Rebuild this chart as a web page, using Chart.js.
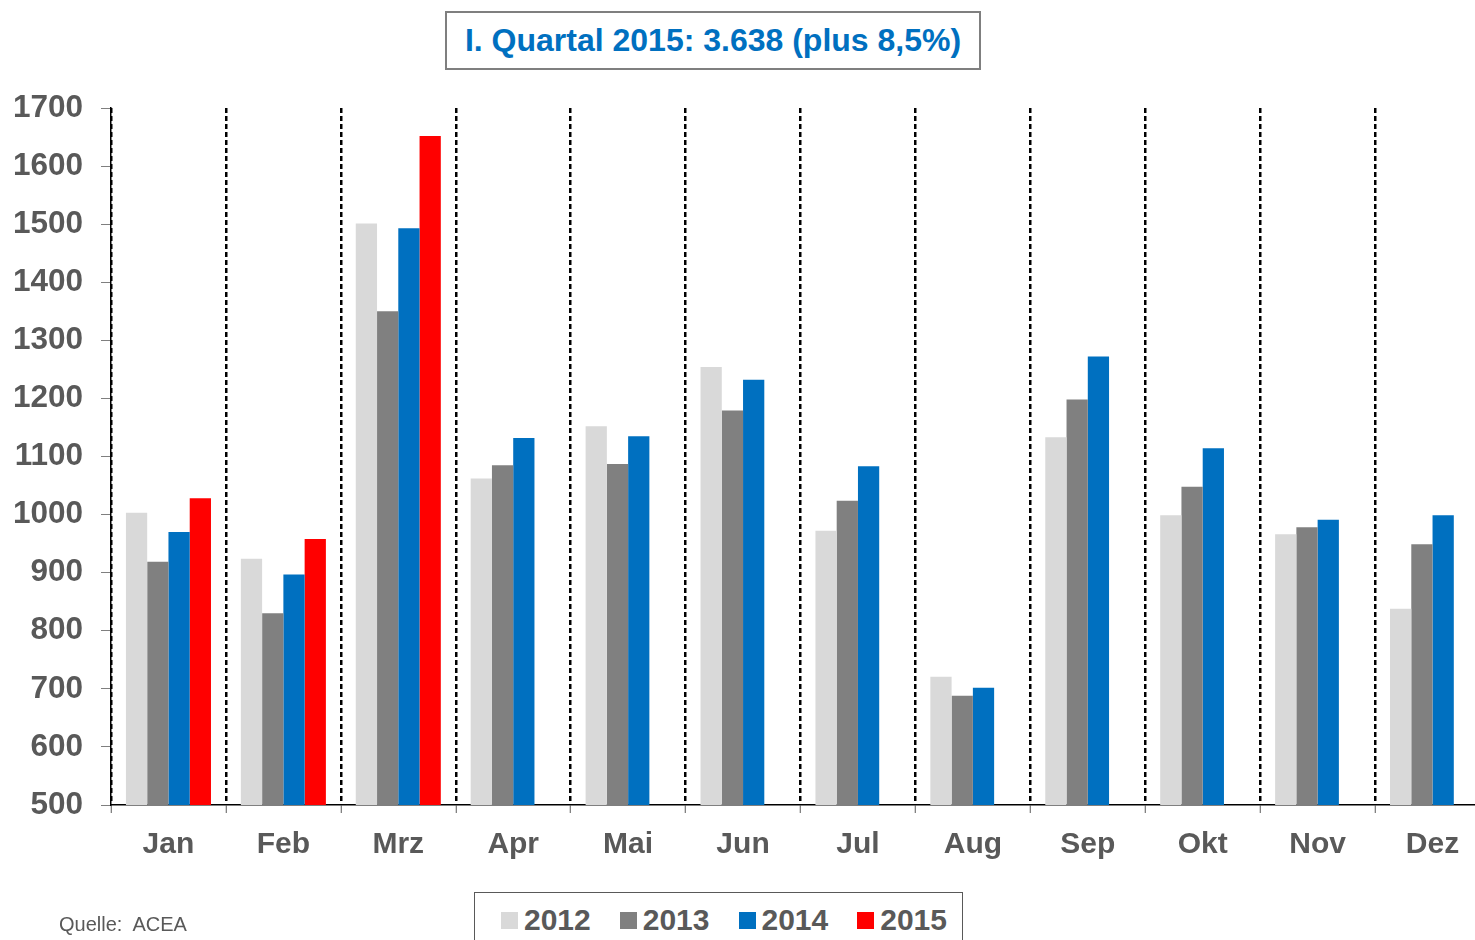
<!DOCTYPE html>
<html>
<head>
<meta charset="utf-8">
<script src="https://cdn.jsdelivr.net/npm/chart.js@4/dist/chart.umd.min.js"></script>
<style>
    html, body { margin: 0; padding: 0; background: #fff; overflow: hidden; }
    body { width: 1475px; height: 940px; position: relative; font-family: "Liberation Sans", Arial, sans-serif; }
    #wrap { position: absolute; left: 0; top: 0; width: 1475px; height: 940px; overflow: hidden; }
    #title {
        position: absolute; left: 445px; top: 11px; width: 532px; height: 55px;
        border: 2px solid #7f7f7f; color: #0070C0; font-weight: bold; font-size: 32px;
        display: flex; align-items: center; justify-content: center; background: #fff;
    }
    #legend {
        position: absolute; left: 474px; top: 892px; width: 489px; height: 70px;
        border: 1px solid #595959; box-sizing: border-box; background: #fff;
        display: flex; align-items: flex-start; padding: 10px 0 0 26px;
    }
    .item { display: flex; align-items: center; margin-right: 29px; font-weight: bold; font-size: 30px; color: #595959; }
    .box { width: 17px; height: 17px; margin-right: 6px; }
    #source { position: absolute; left: 59px; top: 913px; font-size: 20px; color: #595959; }
</style>
</head>
<body>
<div id="wrap"><canvas id="chart" width="1490" height="940"></canvas></div>
<div id="title">I. Quartal 2015: 3.638 (plus 8,5%)</div>
<div id="legend"></div>
<div id="source">Quelle:&nbsp; ACEA</div>
<script>
    const months = ['Jan', 'Feb', 'Mrz', 'Apr', 'Mai', 'Jun', 'Jul', 'Aug', 'Sep', 'Okt', 'Nov', 'Dez'];
    const years = ['2012', '2013', '2014', '2015'];
    const sales2012 = [1003, 924, 1501, 1062, 1152, 1254, 972, 721, 1133, 999, 966, 838];
    const sales2013 = [919, 830, 1350, 1085, 1087, 1179, 1024, 688, 1198, 1048, 978, 949];
    const sales2014 = [970, 897, 1493, 1132, 1135, 1232, 1083, 702, 1272, 1114, 991, 999];
    const sales2015 = [1028, 958, 1652, null, null, null, null, null, null, null, null, null];
    const colors = ['#D9D9D9', '#808080', '#0070C0', '#FF0000'];

    const series = [sales2012, sales2013, sales2014, sales2015];
    const font = '"Liberation Sans", Arial, sans-serif';

    // Legend built from the same series info
    const legendEl = document.getElementById('legend');
    years.forEach((year, i) => {
        const item = document.createElement('div');
        item.className = 'item';
        item.innerHTML = `<span class="box" style="background:${colors[i]}"></span><span>${year}</span>`;
        legendEl.appendChild(item);
    });

    const ctx = document.getElementById('chart').getContext('2d');
    new Chart(ctx, {
        type: 'bar',
        data: {
            labels: months,
            datasets: years.map((year, i) => ({
                label: year,
                data: series[i],
                backgroundColor: colors[i],
                borderWidth: 0,
                categoryPercentage: 0.74,
                barPercentage: 1.0
            }))
        },
        options: {
            responsive: false,
            animation: false,
            layout: { padding: { top: 108, left: 0, right: 0, bottom: 0 } },
            plugins: {
                legend: { display: false },
                tooltip: { enabled: false }
            },
            scales: {
                x: {
                    afterFit: (scale) => { scale.height = 135; },
                    grid: {
                        offset: true,
                        color: '#000',
                        lineWidth: 2.5,
                        drawTicks: true,
                        tickLength: 8,
                        tickColor: '#595959',
                        tickWidth: 1
                    },
                    border: { color: '#000', width: 1.5, dash: [5, 3] },
                    ticks: {
                        color: '#595959',
                        font: { family: font, size: 30, weight: 'bold' },
                        padding: 14
                    }
                },
                y: {
                    min: 500,
                    max: 1700,
                    afterFit: (scale) => { scale.width = 111; },
                    grid: {
                        drawOnChartArea: false,
                        drawTicks: true,
                        tickLength: 10,
                        tickColor: '#7f7f7f'
                    },
                    border: { color: '#000', width: 1.5 },
                    ticks: {
                        stepSize: 100,
                        color: '#595959',
                        font: { family: font, size: 31.5, weight: 'bold' },
                        padding: 18,
                        callback: (value) => String(value)
                    }
                }
            }
        }
    });
</script>
</body>
</html>
